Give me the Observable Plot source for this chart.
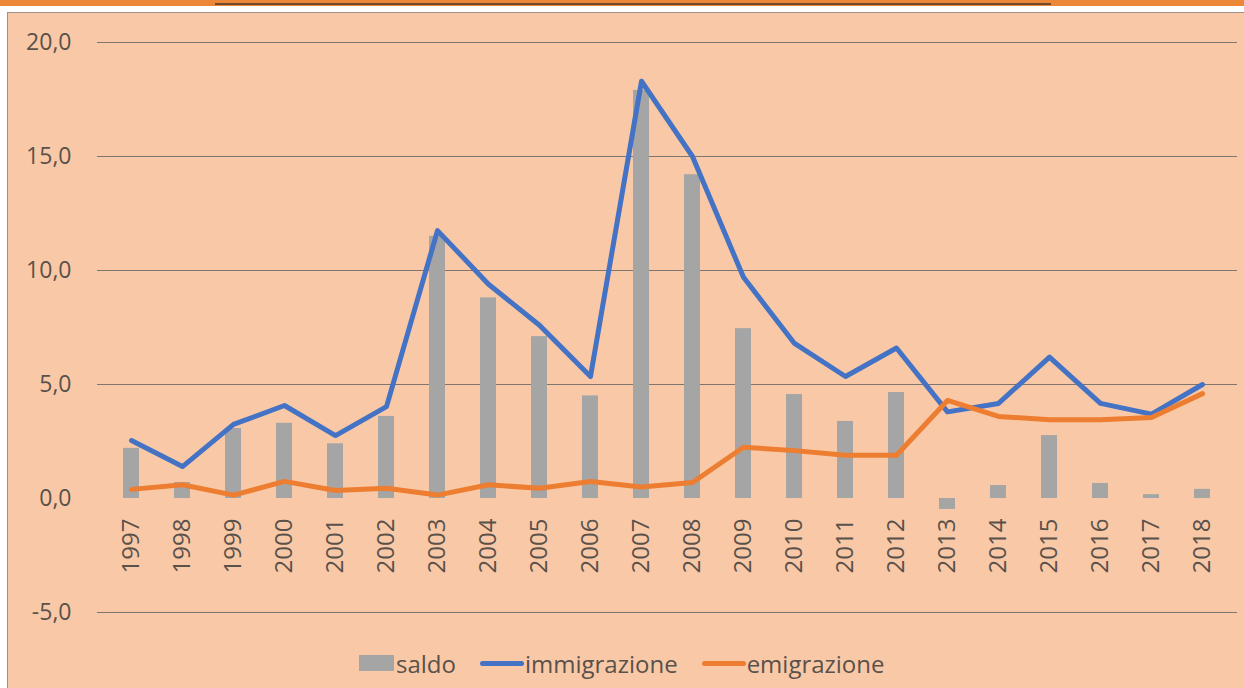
<!DOCTYPE html>
<html>
<head>
<meta charset="utf-8">
<script src="https://cdn.jsdelivr.net/npm/d3@7"></script>
<script src="https://cdn.jsdelivr.net/npm/@observablehq/plot@0.6"></script>
<style>
  html, body { margin: 0; padding: 0; background: #ffffff; width: 1244px; height: 688px; overflow: hidden; font-family: "Open Sans", sans-serif; }
  #topband { position: absolute; left: 0; top: 0; width: 1244px; height: 6px; background: #ec8737; }
  #topline { position: absolute; left: 215px; top: 3px; width: 836px; height: 2px; background: #6e4a2e; }
  #frame { position: absolute; left: 7px; top: 12px; right: 0; bottom: 0; background: #f9c9a7; border-top: 1px solid #9b918a; border-left: 1px solid #9b918a; }
  #chart { position: absolute; left: 0; top: 0; }
  #legend { position: absolute; left: 359px; top: 645px; height: 36px; display: flex; align-items: center; font-size: 24px; color: #5a514b; }
  #legend .sw { display: inline-block; }
  #legend .item { display: flex; align-items: center; margin-right: 24px; }
</style>
</head>
<body>
<div id="topband"><div id="topline"></div></div>
<div id="frame">
  <div id="chart"></div>
</div>
<div id="legend"></div>
<script>
const years = ["1997","1998","1999","2000","2001","2002","2003","2004","2005","2006","2007","2008","2009","2010","2011","2012","2013","2014","2015","2016","2017","2018"];
const saldo = [2.2, 0.7, 3.07, 3.3, 2.4, 3.6, 11.5, 8.8, 7.1, 4.5, 17.9, 14.2, 7.45, 4.56, 3.38, 4.65, -0.48, 0.57, 2.76, 0.66, 0.17, 0.4];
const immigrazione = [2.54, 1.4, 3.25, 4.08, 2.76, 4.03, 11.75, 9.4, 7.6, 5.35, 18.3, 15.0, 9.7, 6.8, 5.35, 6.6, 3.8, 4.17, 6.2, 4.17, 3.7, 5.0];
const emigrazione = [0.4, 0.6, 0.15, 0.75, 0.35, 0.45, 0.15, 0.6, 0.45, 0.75, 0.5, 0.7, 2.25, 2.1, 1.9, 1.9, 4.3, 3.6, 3.45, 3.45, 3.55, 4.6];
const yTicks = [-5, 0, 5, 10, 15, 20];
const gridValues = [-5, 5, 10, 15, 20];
const seriesNames = ["saldo", "immigrazione", "emigrazione"];
const seriesColors = ["#a5a5a5", "#4472c4", "#ed7d31"];

const rows = years.map((y, i) => ({year: y, saldo: saldo[i], imm: immigrazione[i], emi: emigrazione[i]}));
const textColor = "#5a514b";
const fmt = d => d.toFixed(1).replace(".", ",");

const chart = Plot.plot({
  width: 1236,
  height: 609,
  marginTop: 29,
  marginBottom: 10,
  marginLeft: 89,
  marginRight: 7,
  style: {background: "transparent", fontFamily: "'Open Sans', sans-serif", color: textColor, overflow: "visible"},
  x: {type: "band", domain: years, paddingInner: 0.68, paddingOuter: 0.34, axis: null},
  y: {domain: [-5, 20], axis: null},
  marks: [
    Plot.ruleY(gridValues, {stroke: "#7f766f", strokeWidth: 1}),
    Plot.barY(rows, {x: "year", y: "saldo", fill: seriesColors[0]}),
    Plot.lineY(rows, {x: "year", y: "imm", stroke: seriesColors[1], strokeWidth: 5, strokeLinejoin: "round", strokeLinecap: "round"}),
    Plot.lineY(rows, {x: "year", y: "emi", stroke: seriesColors[2], strokeWidth: 5, strokeLinejoin: "round", strokeLinecap: "round"}),
    Plot.axisY({ticks: yTicks, tickFormat: fmt, tickSize: 0, tickPadding: 26, fontSize: 23, fill: textColor}),
    Plot.text(years, {x: d => d, y: () => 0, dy: 20, rotate: -90, textAnchor: "end", lineAnchor: "middle", fontSize: 24, fill: textColor})
  ]
});
document.getElementById("chart").appendChild(chart);

// legend
const legend = document.getElementById("legend");
seriesNames.forEach((name, i) => {
  const item = document.createElement("span");
  item.className = "item";
  const sw = document.createElement("span");
  sw.className = "sw";
  if (i === 0) {
    sw.style.width = "35px"; sw.style.height = "16px"; sw.style.background = seriesColors[i]; sw.style.marginRight = "2px";
  } else {
    sw.style.width = "44px"; sw.style.height = "5px"; sw.style.background = seriesColors[i]; sw.style.borderRadius = "3px"; sw.style.marginRight = "1px";
  }
  item.appendChild(sw);
  const t = document.createElement("span");
  t.textContent = name;
  item.appendChild(t);
  legend.appendChild(item);
});
</script>
</body>
</html>
